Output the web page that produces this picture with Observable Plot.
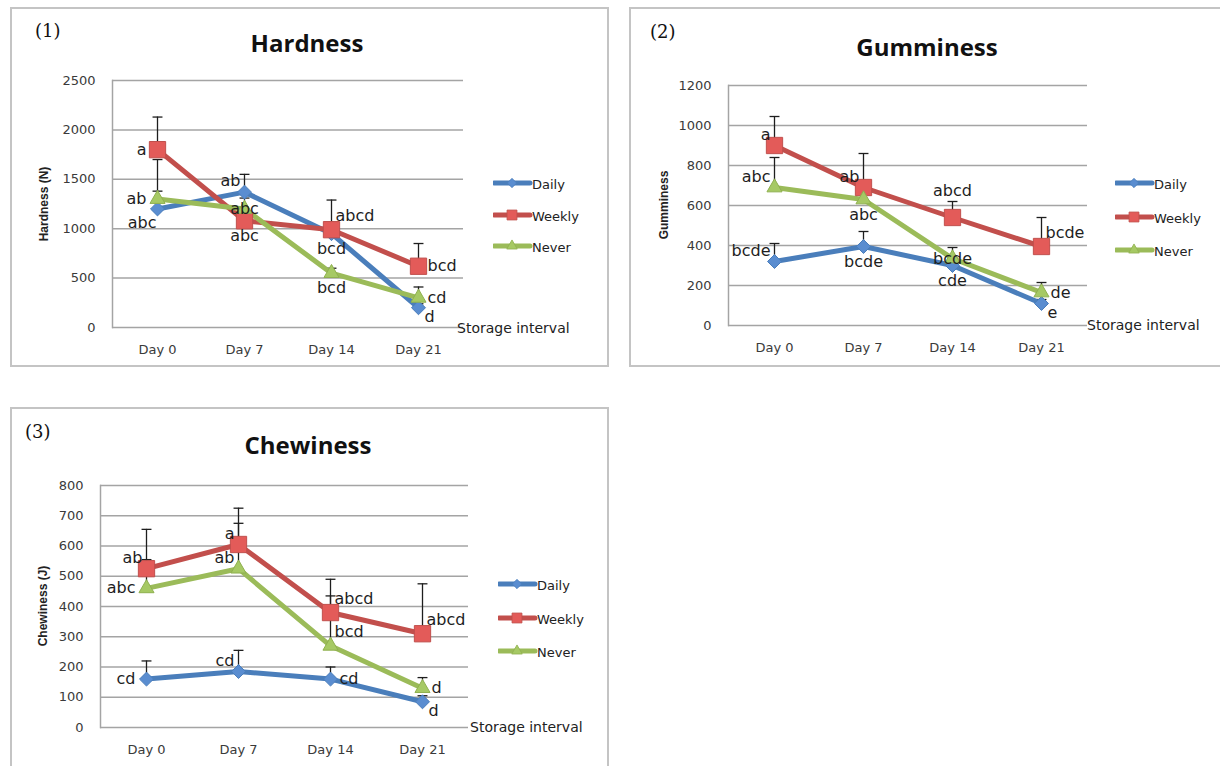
<!DOCTYPE html>
<html><head><meta charset="utf-8">
<script src="https://cdn.jsdelivr.net/npm/d3@7"></script>
<script src="https://cdn.jsdelivr.net/npm/@observablehq/plot@0.6"></script>
<style>
html,body{margin:0;padding:0;background:#fff;}
body{position:relative;width:1220px;height:766px;overflow:hidden;font-family:"DejaVu Sans",sans-serif;}
.frame{position:absolute;border:2px solid #c4c4c4;box-sizing:border-box;}
.abs{position:absolute;white-space:nowrap;line-height:1;}
.num{font-family:"DejaVu Serif",serif;font-size:18px;color:#111;}
.title{font-family:"Open Sans",sans-serif;font-weight:700;font-size:24px;color:#111;}
.ytitle{font-family:"Liberation Sans",sans-serif;font-weight:700;font-size:12px;color:#222;}
.xtitle{font-family:"DejaVu Sans",sans-serif;font-size:14px;color:#222;}
.leg{font-family:"DejaVu Sans",sans-serif;font-size:13px;color:#222;}
svg.chart{position:absolute;max-width:none;overflow:visible;}
</style></head><body>
<script>
// ---------- data ----------
const days = ["Day 0", "Day 7", "Day 14", "Day 21"];
const groups = ["Daily", "Weekly", "Never"];

// (1) Hardness (N)
const hardTicks = [0, 500, 1000, 1500, 2000, 2500];
const hardDaily  = [1200, 1370, 950, 200];
const hardWeekly = [1800, 1080, 990, 620];
const hardNever  = [1300, 1200, 550, 300];
const hardErrDaily  = [180, 180, 110, 40];
const hardErrWeekly = [330, 100, 300, 230];
const hardErrNever  = [400, 110, 50, 110];
const hardLblDaily  = ["abc", "ab", "bcd", "d"];
const hardLblWeekly = ["a", "abc", "abcd", "bcd"];
const hardLblNever  = ["ab", "abc", "bcd", "cd"];
const hardPosDaily  = ["bl", "al", "b", "br"];
const hardPosWeekly = ["l", "b", "ar", "r"];
const hardPosNever  = ["l", "c", "b", "r"];

// (2) Gumminess
const gumTicks = [0, 200, 400, 600, 800, 1000, 1200];
const gumDaily  = [320, 395, 300, 110];
const gumWeekly = [900, 690, 540, 395];
const gumNever  = [690, 630, 335, 165];
const gumErrDaily  = [90, 75, 40, 20];
const gumErrWeekly = [145, 170, 80, 145];
const gumErrNever  = [150, 40, 55, 50];
const gumLblDaily  = ["bcde", "bcde", "cde", "e"];
const gumLblWeekly = ["a", "ab", "abcd", "bcde"];
const gumLblNever  = ["abc", "abc", "bcde", "de"];
const gumPosDaily  = ["al", "b", "b", "br"];
const gumPosWeekly = ["al", "al", "A", "ar"];
const gumPosNever  = ["al", "b", "c", "r"];

// (3) Chewiness (J)
const chewTicks = [0, 100, 200, 300, 400, 500, 600, 700, 800];
const chewDaily  = [160, 185, 160, 85];
const chewWeekly = [525, 605, 380, 310];
const chewNever  = [460, 525, 270, 130];
const chewErrDaily  = [60, 70, 40, 20];
const chewErrWeekly = [130, 120, 110, 165];
const chewErrNever  = [95, 150, 165, 35];
const chewLblDaily  = ["cd", "cd", "cd", "d"];
const chewLblWeekly = ["ab", "a", "abcd", "abcd"];
const chewLblNever  = ["abc", "ab", "bcd", "d"];
const chewPosDaily  = ["l", "al", "r", "br"];
const chewPosWeekly = ["al", "al", "ar", "ar"];
const chewPosNever  = ["l", "al", "ar", "r"];

// ---------- styling ----------
const lineColor = {Daily: "#4a7ebb", Weekly: "#c24f4c", Never: "#9bbb59"};
const markFill  = {Daily: "#5a8dd0", Weekly: "#e35b59", Never: "#a6c964"};
const markStroke= {Daily: "#4a7ebb", Weekly: "#c0504d", Never: "#8fb04f"};
const markSym   = {Daily: "diamond2", Weekly: "square", Never: "triangle"};
const markR     = {Daily: 6.3, Weekly: 9.2, Never: 5.6};
const legR      = {Daily: 4.2, Weekly: 5.6, Never: 3.9};
const posDefs = {
  l:  {textAnchor: "end",    dx: -11, dy: 0},
  r:  {textAnchor: "start",  dx: 9,   dy: 0},
  a:  {textAnchor: "middle", dx: 0,   dy: -15},
  A:  {textAnchor: "middle", dx: 0,   dy: -27},
  b:  {textAnchor: "middle", dx: 0,   dy: 15},
  c:  {textAnchor: "middle", dx: 0,   dy: 0},
  al: {textAnchor: "end",    dx: -4,  dy: -11},
  ar: {textAnchor: "start",  dx: 4,   dy: -14},
  bl: {textAnchor: "end",    dx: -1,  dy: 14},
  br: {textAnchor: "start",  dx: 6,   dy: 9}
};
const capSymbol = {draw(ctx, size) { const w = Math.sqrt(size) / 2; ctx.moveTo(-w, 0); ctx.lineTo(w, 0); }};

function buildRows(vals, errs, lbls, poss) {
  const rows = [];
  groups.forEach((g, gi) => days.forEach((day, i) => rows.push({
    group: g, day, value: vals[gi][i], err: errs[gi][i], label: lbls[gi][i], pos: poss[gi][i]
  })));
  return rows;
}

function addText(txt, x, y, cls, center) {
  const d = document.createElement("div");
  d.className = "abs " + cls;
  d.textContent = txt;
  d.style.left = x + "px";
  d.style.top = y + "px";
  d.style.transform = `translate(${center ? "-50%" : "0"},-50%)`;
  document.body.appendChild(d);
  return d;
}
function addFrame(x, y, w, h) {
  const d = document.createElement("div");
  d.className = "frame";
  Object.assign(d.style, {left: x + "px", top: y + "px", width: w + "px", height: h + "px"});
  document.body.appendChild(d);
}
function addLegend(x, y0, gap) {
  groups.forEach((g, i) => {
    const y = y0 + i * gap;
    const ns = "http://www.w3.org/2000/svg";
    const s = document.createElementNS(ns, "svg");
    s.setAttribute("width", 40); s.setAttribute("height", 16);
    Object.assign(s.style, {position: "absolute", left: x + "px", top: (y - 8) + "px"});
    const ln = document.createElementNS(ns, "line");
    ln.setAttribute("x1", 1); ln.setAttribute("x2", 37); ln.setAttribute("y1", 8); ln.setAttribute("y2", 8);
    ln.setAttribute("stroke", lineColor[g]); ln.setAttribute("stroke-width", 5); ln.setAttribute("stroke-linecap", "round");
    s.appendChild(ln);
    const symType = {Daily: d3.symbolDiamond2, Weekly: d3.symbolSquare, Never: d3.symbolTriangle}[g];
    const p = document.createElementNS(ns, "path");
    p.setAttribute("d", d3.symbol(symType, legR[g] * legR[g] * Math.PI)());
    p.setAttribute("transform", "translate(19,8)");
    p.setAttribute("fill", markFill[g]); p.setAttribute("stroke", markStroke[g]); p.setAttribute("stroke-width", 0.8);
    s.appendChild(p);
    document.body.appendChild(s);
    addText(g, x + 39, y + 1, "leg", false);
  });
}

function drawPanel(cfg) {
  const {left, top, width, height, m, yMax, ticks, rows} = cfg;
  const marks = [
    Plot.ruleY(ticks, {stroke: "#a4a4a4", strokeWidth: 1.5}),
    Plot.frame({anchor: "left", stroke: "#a4a4a4", strokeWidth: 1.5})
  ];
  marks.push(Plot.ruleX(rows, {x: "day", y1: "value", y2: d => d.value + d.err, stroke: "#1e1e1e", strokeWidth: 1.3}));
  marks.push(Plot.dot(rows, {x: "day", y: d => d.value + d.err, symbol: capSymbol, r: 5.6, stroke: "#1e1e1e", strokeWidth: 1.3, fill: "none"}));
  groups.forEach(g => {
    const gr = rows.filter(d => d.group === g);
    marks.push(Plot.line(gr, {x: "day", y: "value", stroke: lineColor[g], strokeWidth: 5, strokeLinejoin: "round", strokeLinecap: "round"}));
  });
  groups.forEach(g => {
    const gr = rows.filter(d => d.group === g);
    marks.push(Plot.dot(gr, {x: "day", y: "value", symbol: markSym[g], r: markR[g], fill: markFill[g], stroke: markStroke[g], strokeWidth: 1}));
  });
  Object.entries(posDefs).forEach(([code, p]) => {
    const lr = rows.filter(d => d.pos === code);
    if (lr.length) marks.push(Plot.text(lr, {x: "day", y: "value", text: "label", textAnchor: p.textAnchor, dx: p.dx, dy: p.dy,
      fontSize: 16, fill: "#1e1e1e", fontFamily: "DejaVu Sans"}));
  });
  const svg = Plot.plot({
    width, height,
    marginTop: m[0], marginRight: m[1], marginBottom: m[2], marginLeft: m[3],
    style: {background: "transparent", fontFamily: "DejaVu Sans", fontSize: "13px", color: "#3a3a3a", overflow: "visible"},
    x: {type: "point", domain: days, padding: 0.5, tickSize: 0, tickPadding: 17, label: null},
    y: {domain: [0, yMax], ticks, tickSize: 0, tickPadding: 17, label: null, tickFormat: d => String(d)},
    marks
  });
  svg.classList.add("chart");
  svg.style.left = left + "px";
  svg.style.top = top + "px";
  document.body.appendChild(svg);
}

// ---------- panel 1 ----------
addFrame(10, 7, 599, 360);
drawPanel({left: 10, top: 7, width: 600, height: 360, m: [73, 147, 40, 102], yMax: 2500, ticks: hardTicks,
  rows: buildRows([hardDaily, hardWeekly, hardNever], [hardErrDaily, hardErrWeekly, hardErrNever],
                  [hardLblDaily, hardLblWeekly, hardLblNever], [hardPosDaily, hardPosWeekly, hardPosNever])});
addText("(1)", 35, 31, "num", false);
addText("Hardness", 307, 43, "title", true);
addText("Hardness (N)", 44, 204, "ytitle", true).style.transform = "translate(-50%,-50%) rotate(-90deg)";
addText("Storage interval", 457, 328, "xtitle", false);
addLegend(493, 183, 31.5);

// ---------- panel 2 ----------
addFrame(629, 7, 593, 360);
drawPanel({left: 628, top: 7, width: 592, height: 360, m: [78, 133, 42, 100], yMax: 1200, ticks: gumTicks,
  rows: buildRows([gumDaily, gumWeekly, gumNever], [gumErrDaily, gumErrWeekly, gumErrNever],
                  [gumLblDaily, gumLblWeekly, gumLblNever], [gumPosDaily, gumPosWeekly, gumPosNever])});
addText("(2)", 650, 32, "num", false);
addText("Gumminess", 927, 47, "title", true);
addText("Gumminess", 664, 205, "ytitle", true).style.transform = "translate(-50%,-50%) rotate(-90deg)";
addText("Storage interval", 1087, 325, "xtitle", false);
addLegend(1115, 183, 33.5);

// ---------- panel 3 ----------
addFrame(10, 407, 599, 370);
drawPanel({left: 10, top: 407, width: 600, height: 359, m: [78, 142, 39, 90], yMax: 800, ticks: chewTicks,
  rows: buildRows([chewDaily, chewWeekly, chewNever], [chewErrDaily, chewErrWeekly, chewErrNever],
                  [chewLblDaily, chewLblWeekly, chewLblNever], [chewPosDaily, chewPosWeekly, chewPosNever])});
addText("(3)", 25, 432, "num", false);
addText("Chewiness", 308, 445, "title", true);
addText("Chewiness (J)", 43, 606, "ytitle", true).style.transform = "translate(-50%,-50%) rotate(-90deg)";
addText("Storage interval", 470, 727, "xtitle", false);
addLegend(498, 584, 33.5);
</script>
</body></html>
